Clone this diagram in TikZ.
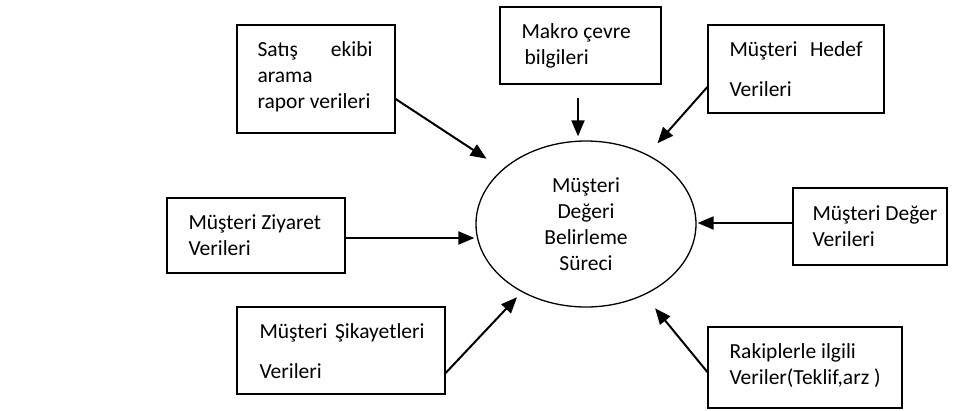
\documentclass[tikz,border=0pt]{standalone}
\usepackage{fontspec}
\setmainfont{Carlito}
\usetikzlibrary{arrows.meta,shapes.geometric}
\begin{document}
\begin{tikzpicture}[x=1pt,y=-1pt,
  box/.style={draw, line width=1.3pt, rectangle, inner sep=0pt},
  lbl/.style={anchor=west, align=left, inner sep=0pt, font=\fontsize{21.5}{26}\selectfont},
  widelbl/.style={lbl, font=\fontsize{21.5}{40}\selectfont},
  arr/.style={line width=2pt, -{Triangle[length=16pt,width=13pt]}},
]
\useasboundingbox (0,0) rectangle (960,410);

% central process
\node[draw, ellipse, line width=1.3pt, minimum width=220pt, minimum height=166pt,
      inner sep=0pt, align=center, font=\fontsize{21.5}{26}\selectfont]
  (ell) at (586,224) {Müşteri\\Değeri\\Belirleme\\Süreci};

% input boxes
\node[box, minimum width=158pt, minimum height=108pt] (sat) at (316,79) {};
\node[box, minimum width=161pt, minimum height=77pt]  (mak) at (580.5,45.5) {};
\node[box, minimum width=176pt, minimum height=88pt]  (hed) at (796,69) {};
\node[box, minimum width=178pt, minimum height=75pt]  (ziy) at (256,235.5) {};
\node[box, minimum width=154pt, minimum height=77pt]  (deg) at (870,226.5) {};
\node[box, minimum width=208pt, minimum height=87pt]  (sik) at (341,350.5) {};
\node[box, minimum width=194pt, minimum height=81pt]  (rak) at (805,367.5) {};

% box texts
\node[lbl] (satT) at ([xshift=21pt,yshift=2pt]sat.west)
  {\makebox[115pt][s]{Satış ekibi}\\arama\\rapor verileri};
\node[lbl] (makT) at ([xshift=22pt]mak.west) {Makro çevre\\\hspace*{3pt}bilgileri};
\node[widelbl] (hedT) at ([xshift=22pt]hed.west) {\makebox[133pt][s]{Müşteri Hedef}\\Verileri};
\node[lbl] (ziyT) at ([xshift=22pt]ziy.west) {Müşteri Ziyaret\\Verileri};
\node[lbl] (degT) at ([xshift=20pt]deg.west) {Müşteri Değer\\Verileri};
\node[widelbl] (sikT) at ([xshift=23pt,yshift=-1pt]sik.west) {\makebox[165pt][s]{Müşteri Şikayetleri}\\Verileri};
\node[lbl] (rakT) at ([xshift=22pt,yshift=2pt]rak.west) {Rakiplerle ilgili\\Veriler(Teklif,arz )};

% connectors into the process
\draw[arr, shorten >=19pt] ([yshift=-20pt]sat.east) -- (ell);
\draw[arr] ([xshift=-2.5pt,yshift=-13pt]mak.south) -- ([xshift=-8pt,yshift=4pt]ell.north);
\draw[arr, shorten >=15pt] ([yshift=-18pt]hed.west) -- (ell);
\draw[arr] ([yshift=-2.5pt]ziy.east) -- ([xshift=-1pt,yshift=-14pt]ell.west);
\draw[arr] ([yshift=3.5pt]deg.west) -- ([xshift=1pt,yshift=1pt]ell.east);
\draw[arr, shorten >=7pt] ([yshift=-22.5pt]sik.east) -- (ell);
\draw[arr, shorten >=17pt] ([yshift=-4.5pt]rak.west) -- (ell);
\end{tikzpicture}
\end{document}
